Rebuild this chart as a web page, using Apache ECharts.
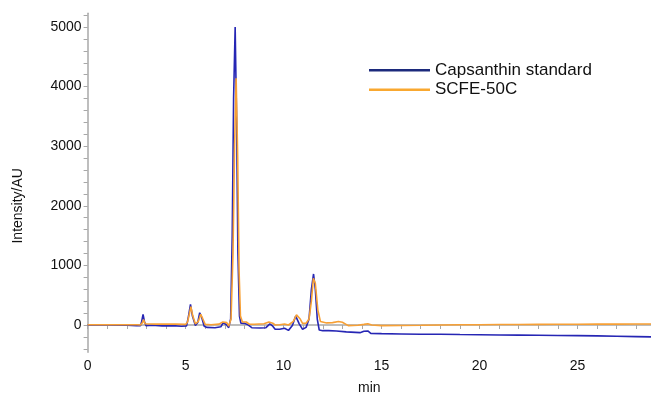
<!DOCTYPE html>
<html>
<head>
<meta charset="utf-8">
<script src="https://cdn.jsdelivr.net/npm/echarts@6/dist/echarts.min.js"></script>
<style>
  html, body { margin: 0; padding: 0; background: #fff; }
  #chart { width: 651px; height: 394px; }
</style>
</head>
<body>
<div id="chart"></div>
<script>
// retention time (min) and intensity
const stdTime = [0, 1.0, 2.0, 2.5, 2.7, 2.76, 2.83, 2.9, 2.98, 3.3, 3.8, 4.3, 4.8, 5.05, 5.15, 5.25, 5.35, 5.5, 5.62, 5.72, 5.82, 5.95, 6.1, 6.5, 6.8, 6.92, 7.0, 7.1, 7.2, 7.3, 7.38, 7.45, 7.53, 7.6, 7.67, 7.75, 7.82, 8.0, 8.15, 8.38, 8.8, 9.1, 9.3, 9.35, 9.45, 9.57, 9.8, 10.05, 10.25, 10.45, 10.62, 10.68, 10.8, 10.97, 11.15, 11.3, 11.42, 11.53, 11.62, 11.72, 11.82, 12.0, 12.3, 12.7, 13.2, 13.9, 14.1, 14.3, 14.45, 15, 16, 17, 18, 19, 20, 21, 22, 23, 24, 25, 26, 27, 28, 28.75];
const stdValue = [0, 0, -5, -10, -10, 60, 180, 60, -10, -5, -15, -10, -20, -15, 150, 347, 150, -10, 40, 206, 130, -20, -40, -45, -30, 40, 67, 0, -45, 100, 1500, 3800, 5000, 3500, 1200, 150, 30, 28, 10, -45, -50, -45, 20, 28, -20, -72, -70, -55, -90, -10, 150, 168, 20, -72, -40, 100, 600, 856, 600, 100, -84, -95, -95, -100, -115, -128, -105, -100, -140, -145, -150, -155, -155, -160, -163, -168, -170, -172, -175, -178, -182, -188, -195, -200];

const scfeTime = [0, 1.0, 2.0, 2.5, 2.7, 2.76, 2.8, 2.86, 2.93, 3.0, 3.5, 4.0, 4.5, 5.0, 5.1, 5.2, 5.27, 5.37, 5.5, 5.65, 5.77, 5.87, 6.0, 6.3, 6.7, 6.9, 6.98, 7.1, 7.2, 7.32, 7.42, 7.5, 7.58, 7.66, 7.73, 7.8, 7.9, 8.0, 8.1, 8.25, 8.5, 9.0, 9.25, 9.35, 9.45, 9.57, 9.8, 10.05, 10.25, 10.5, 10.66, 10.76, 10.85, 10.97, 11.15, 11.3, 11.42, 11.52, 11.62, 11.75, 11.88, 11.96, 12.2, 12.5, 12.8, 13.0, 13.3, 13.8, 14.1, 14.3, 14.5, 15, 16, 17, 18, 19, 20, 21, 22, 23, 24, 25, 26, 27, 28, 28.75];
const scfeValue = [5, 5, 5, 5, 0, -30, 40, 90, 20, 10, 15, 15, 15, 10, 50, 200, 307, 150, 20, 60, 180, 110, 10, 5, 15, 50, 80, 40, -20, 100, 1200, 3000, 4140, 2800, 900, 150, 50, 55, 50, 15, 12, 20, 50, 67, 30, 0, 5, 17, 0, 60, 170, 185, 100, 28, 30, 100, 400, 783, 700, 250, 60, 39, 35, 40, 60, 45, -10, -5, 10, 22, 0, -10, -8, -5, 0, 3, 5, 8, 8, 10, 12, 12, 15, 15, 17, 17];

const yLabels = [0, 1000, 2000, 3000, 4000, 5000];
const yTicks = [-400, -200, 0, 200, 400, 600, 800, 1000, 1200, 1400, 1600, 1800, 2000, 2200, 2400, 2600, 2800, 3000, 3200, 3400, 3600, 3800, 4000, 4200, 4400, 4600, 4800, 5000, 5200];
const xLabels = [0, 5, 10, 15, 20, 25];
const xTicks = [0, 1, 2, 3, 4, 5, 6, 7, 8, 9, 10, 11, 12, 13, 14, 15, 16, 17, 18, 19, 20, 21, 22, 23, 24, 25, 26, 27, 28];

const zip = (xs, ys) => xs.map((x, i) => [x, ys[i]]);

const chart = echarts.init(document.getElementById('chart'));
const axisColor = '#a8a8a8';
const font = 'Liberation Sans, Arial, sans-serif';

chart.setOption({
  animation: false,
  grid: { left: 87.6, right: 0, top: 13.3, bottom: 41.7, containLabel: false, outerBoundsMode: 'none' },
  legend: {
    orient: 'vertical',
    left: 364,
    top: 56,
    icon: 'rect',
    itemWidth: 61,
    itemHeight: 2.5,
    itemGap: 1,
    textStyle: { fontFamily: font, fontSize: 17, color: '#111', lineHeight: 18.5 },
    data: [
      { name: 'Capsanthin standard', itemStyle: { color: '#1c2a7c' } },
      { name: 'SCFE-50C', itemStyle: { color: '#f9a830' } }
    ]
  },
  xAxis: {
    type: 'value',
    min: 0,
    max: 28.75,
    name: 'min',
    nameLocation: 'middle',
    nameGap: 29,
    nameTextStyle: { fontFamily: font, fontSize: 14, color: '#111' },
    splitLine: { show: false },
    axisLine: { show: true, lineStyle: { color: axisColor, width: 1.5 } },
    axisTick: { show: true, length: 4, lineStyle: { color: axisColor }, customValues: xTicks },
    axisLabel: { fontFamily: font, fontSize: 14, color: '#111', margin: 7, customValues: xLabels }
  },
  yAxis: {
    type: 'value',
    min: -458,
    max: 5230,
    name: 'Intensity/AU',
    nameLocation: 'middle',
    nameGap: 62,
    nameTextStyle: { fontFamily: font, fontSize: 14, color: '#111', padding: [0, 46, 0, 0] },
    splitLine: { show: false },
    axisLine: { show: true, lineStyle: { color: axisColor, width: 1.5 } },
    axisTick: { show: true, length: 4, lineStyle: { color: axisColor }, customValues: yTicks },
    axisLabel: {
      fontFamily: font, fontSize: 14, color: '#111', margin: 6,
      customValues: yLabels,
      formatter: v => String(v)
    }
  },
  series: [
    {
      name: 'Capsanthin standard',
      type: 'line',
      showSymbol: false,
      color: '#2626b4',
      lineStyle: { width: 1.6 },
      data: zip(stdTime, stdValue)
    },
    {
      name: 'SCFE-50C',
      type: 'line',
      showSymbol: false,
      color: '#f7a035',
      lineStyle: { width: 1.6 },
      data: zip(scfeTime, scfeValue)
    }
  ]
});
</script>
</body>
</html>
